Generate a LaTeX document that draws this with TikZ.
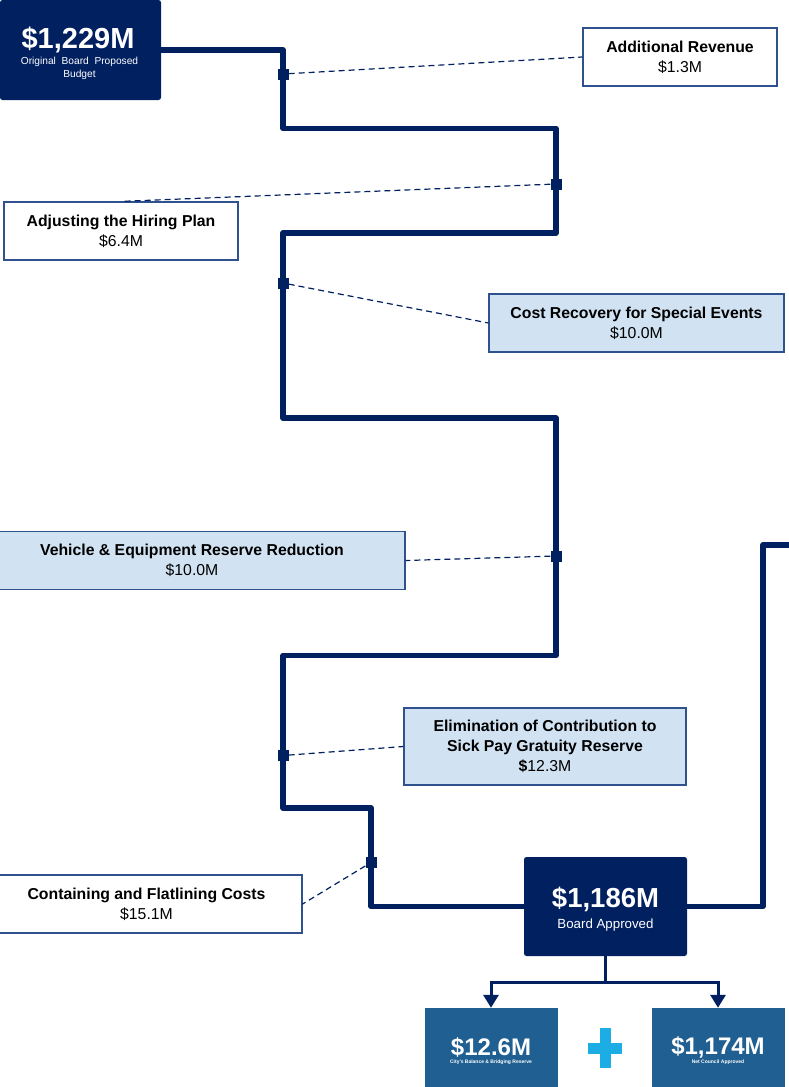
\documentclass[tikz,border=0pt]{standalone}
\usepackage{fontspec}
\setmainfont{Liberation Sans}
\usetikzlibrary{arrows.meta}
\definecolor{navy}{RGB}{0,32,96}
\definecolor{edgeblue}{RGB}{47,82,143}
\definecolor{paleblue}{RGB}{209,227,243}
\definecolor{midblue}{RGB}{31,95,145}
\definecolor{plusblue}{RGB}{28,173,228}
\begin{document}
\begin{tikzpicture}[x=1pt,y=-1pt,
  callout/.style={draw=edgeblue, line width=1.2pt, align=center, inner sep=0pt,
    font=\fontsize{15.8}{19.8}\selectfont, text=black},
  wbox/.style={callout, fill=white},
  pbox/.style={callout, fill=paleblue},
  darkbox/.style={fill=navy, rounded corners=2.5pt, inner sep=0pt},
  resbox/.style={fill=midblue, inner sep=0pt, minimum width=133pt, minimum height=82pt},
  route/.style={draw=navy, line width=5.5pt, line join=round},
  marker/.style={fill=navy, minimum size=11pt, inner sep=0pt},
  lead/.style={draw=navy, line width=1.2pt, dash pattern=on 6pt off 4pt},
  stem/.style={draw=navy, line width=3pt},
  wtext/.style={text=white, inner sep=0pt, align=center}
]
\useasboundingbox (0,0) rectangle (788,1087);

% main route
\node[darkbox, minimum width=161pt, minimum height=100pt] (top) at (80.5,50) {};
\node[darkbox, minimum width=163pt, minimum height=99pt] (board) at (605.5,906.5) {};
\draw[route] (top.east) -- (283,50) -- (283,128.5) -- (556,128.5) -- (556,233) -- (283,233)
  -- (283,418) -- (556,418) -- (556,655.5) -- (283,655.5) -- (283,808) -- (371,808)
  -- (371,906.5) -- (board.west);
\coordinate (exit) at (800,545);
\draw[route] (board.east) -- (763,906.5) -- (763,545) -- (exit);

% texts of dark boxes
\node[wtext, font=\fontsize{29}{30}\bfseries\selectfont] (toptitle) at (78,40) {\$1,229M};
\node[wtext, font=\fontsize{10.2}{13}\selectfont] (topsub) at (79.5,68.5) {Original\ \ Board\ \ Proposed\\Budget};
\node[wtext, font=\fontsize{27.5}{29}\bfseries\selectfont] (boardtitle) at (605.5,899) {\$1,186M};
\node[wtext, font=\fontsize{13.3}{15}\selectfont] (boardsub) at (605.5,925) {Board Approved};

% markers
\node[marker] (m1) at (283,74) {};
\node[marker] (m2) at (556,184) {};
\node[marker] (m3) at (283,283) {};
\node[marker] (m4) at (556,556) {};
\node[marker] (m5) at (283,755.5) {};
\node[marker] (m6) at (371,862.5) {};

% callout boxes
\node[wbox, minimum width=194pt, minimum height=58pt] (addrev) at (680,57) {\textbf{Additional Revenue}\\\$1.3M};
\node[wbox, minimum width=234pt, minimum height=58pt] (hiring) at (121,231) {\textbf{Adjusting the Hiring Plan}\\\$6.4M};
\node[pbox, minimum width=295pt, minimum height=58pt] (special) at (636.5,323) {\textbf{Cost Recovery for Special Events}\\\$10.0M};
\node[pbox, minimum width=426pt, minimum height=58pt] (vehicle) at (192,560.5) {\textbf{Vehicle \& Equipment Reserve Reduction}\\\$10.0M};
\node[pbox, minimum width=282pt, minimum height=77pt] (sick) at (545,746.5) {\textbf{Elimination of Contribution to}\\\textbf{Sick Pay Gratuity Reserve}\\\textbf{\$}12.3M};
\node[wbox, minimum width=311pt, minimum height=58pt] (contain) at (146.5,904) {\textbf{Containing and Flatlining Costs}\\\$15.1M};

% leads
\draw[lead] (m1) -- (addrev.west);
\draw[lead] (m2) -- (hiring.north);
\draw[lead] (m3) -- (special.west);
\draw[lead] (m4) -- (vehicle.east);
\draw[lead] (m5) -- (sick.west);
\draw[lead] (m6) -- (contain.east);

% result boxes
\node[resbox] (reserve) at (491,1049) {};
\node[resbox] (council) at (718,1049) {};
\node[wtext, font=\fontsize{24}{26}\bfseries\selectfont] (reservetitle) at (491,1047) {\$12.6M};
\node[wtext, font=\fontsize{5}{6}\bfseries\selectfont] (reservesub) at (491,1062.5) {City's Balance \& Bridging Reserve};
\node[wtext, font=\fontsize{24}{26}\bfseries\selectfont] (counciltitle) at (718,1047) {\$1,174M};
\node[wtext, font=\fontsize{5}{6}\bfseries\selectfont] (councilsub) at (718,1062.5) {Net Council Approved};

% split arrows
\coordinate (split) at (605.5,982);
\draw[stem] (board.south) -- (split);
\draw[stem, -{Triangle[width=15pt,length=13pt]}] (split) -| (reserve.north);
\draw[stem, -{Triangle[width=15pt,length=13pt]}] (split) -| (council.north);

% plus sign
\node[fill=plusblue, minimum width=34pt, minimum height=11pt, inner sep=0pt] (plush) at (605,1048) {};
\node[fill=plusblue, minimum width=11pt, minimum height=40pt, inner sep=0pt] (plusv) at (605,1048) {};
\end{tikzpicture}
\end{document}
